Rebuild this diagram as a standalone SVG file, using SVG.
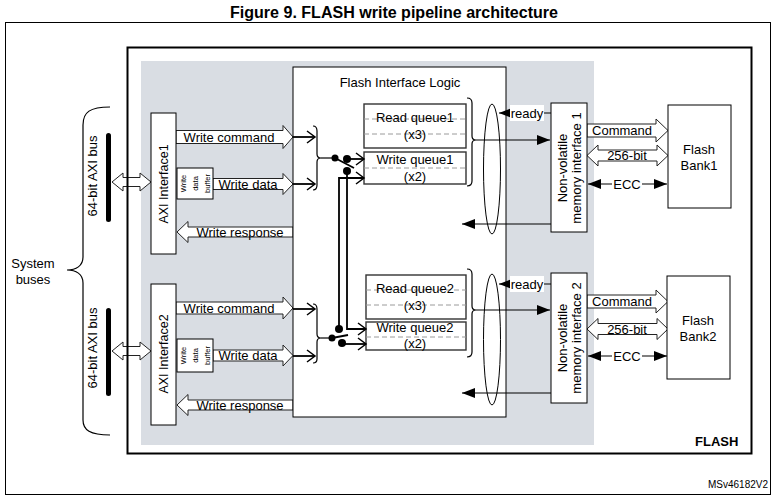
<svg xmlns="http://www.w3.org/2000/svg" width="776" height="499" viewBox="0 0 776 499">
<defs>
<style>
.t{font-family:"Liberation Sans",Arial,sans-serif;font-size:13px;fill:#000}
.c{text-anchor:middle}
.box{fill:#fff;stroke:#000;stroke-width:1}
.q{fill:#fff;stroke:#333;stroke-width:1.4}
.ha{fill:#fff;stroke:#222;stroke-width:1}
.ln{fill:none;stroke:#000;stroke-width:1.2}
.lt{fill:none;stroke:#000;stroke-width:1.8}
.dash{stroke:#9a9a9a;stroke-width:1;stroke-dasharray:5 3}
.dot{fill:#000}
.sm{font-size:7.5px}
</style>
<marker id="ah" markerUnits="userSpaceOnUse" markerWidth="14" markerHeight="10" refX="13" refY="5" orient="auto-start-reverse" overflow="visible">
<path d="M0,0 L13,5 L0,10 z" fill="#000"/>
</marker>
<marker id="ch" markerUnits="userSpaceOnUse" markerWidth="10" markerHeight="14" refX="8" refY="6" orient="auto" overflow="visible">
<path d="M0,0 L8,6 L0,12" fill="none" stroke="#000" stroke-width="1.5"/>
</marker>
</defs>

<rect x="0" y="0" width="776" height="499" fill="#fff"/>
<text x="394" y="18" text-anchor="middle" textLength="328" lengthAdjust="spacingAndGlyphs" style="font-family:'Liberation Sans Narrow','Liberation Sans',Arial,sans-serif;font-size:16px;font-weight:bold">Figure 9. FLASH write pipeline architecture</text>
<rect x="5.5" y="22.5" width="765" height="472" fill="none" stroke="#000" stroke-width="1"/>

<!-- gray region -->
<rect x="141" y="61" width="453" height="384" fill="#d9dde3"/>

<!-- system buses brace -->
<g id="system-buses">
<path class="ln" d="M110,107 C90,107 83,112 83,125 L83,257 C83,266 76,270 67,270 C76,270 83,274 83,283 L83,420 C83,430 90,435 110,435"/>
<text class="t c" x="33" y="268">System</text>
<text class="t c" x="33" y="284">buses</text>
</g>

<g id="axi-bus-1">
<rect x="106" y="133" width="5" height="89" rx="2.5" fill="#000"/>
<text class="t c" transform="translate(96.5,176) rotate(-90)">64-bit AXI bus</text>
</g>
<g id="axi-bus-2">
<rect x="106" y="308" width="5" height="88" rx="2.5" fill="#000"/>
<text class="t c" transform="translate(96.5,348) rotate(-90)">64-bit AXI bus</text>
</g>

<!-- connectors -->
<g id="connectors">
<polygon class="ha" points="112,182 123,173 123,177.5 140,177.5 140,173 151,182 140,191 140,186.5 123,186.5 123,191"/>
<polygon class="ha" points="112,351 123,342 123,346.5 140,346.5 140,342 151,351 140,360 140,355.5 123,355.5 123,360"/>
<polygon class="ha" points="176,130.5 283,130.5 283,125.5 293,137 283,148.5 283,143.5 176,143.5"/>
<polygon class="ha" points="213,178.5 283,178.5 283,173.5 293,184 283,194.5 283,189.5 213,189.5"/>
<polygon class="ha" points="293,227 188,227 188,221.5 177,232 188,242.5 188,237 293,237"/>
<polygon class="ha" points="176,302 283,302 283,297 293,308 283,319 283,314 176,314"/>
<polygon class="ha" points="213,350 283,350 283,345 293,355.5 283,366 283,361 213,361"/>
<polygon class="ha" points="293,400 188,400 188,394.5 177,405 188,415.5 188,410 293,410"/>
</g>

<!-- FLASH frame -->
<g id="flash">
<rect x="127.5" y="47.5" width="624" height="406" fill="none" stroke="#000" stroke-width="2"/>
<text class="t" x="695" y="446" style="font-weight:bold">FLASH</text>
</g>

<g id="axi-interface-1">
<rect class="box" x="151" y="113" width="25" height="141"/>
<text class="t c" transform="translate(168,184) rotate(-90)" style="font-size:12.5px">AXI Interface1</text>
<rect class="box" x="177" y="168" width="36" height="31"/>
<text class="t c sm" transform="translate(186,183.5) rotate(-90)">Write</text>
<text class="t c sm" transform="translate(198,183.5) rotate(-90)">data</text>
<text class="t c sm" transform="translate(210,183.5) rotate(-90)">buffer</text>
<text class="t c" x="229" y="142">Write command</text>
<text class="t c" x="248" y="188.5">Write data</text>
<text class="t c" x="240" y="236.5">Write response</text>
</g>

<g id="axi-interface-2">
<rect class="box" x="151" y="284" width="25" height="141"/>
<text class="t c" transform="translate(168,354) rotate(-90)" style="font-size:12.5px">AXI Interface2</text>
<rect class="box" x="177" y="339" width="36" height="33"/>
<text class="t c sm" transform="translate(186,355.5) rotate(-90)">Write</text>
<text class="t c sm" transform="translate(198,355.5) rotate(-90)">data</text>
<text class="t c sm" transform="translate(210,355.5) rotate(-90)">buffer</text>
<text class="t c" x="229" y="312.5">Write command</text>
<text class="t c" x="248" y="360">Write data</text>
<text class="t c" x="240" y="409.5">Write response</text>
</g>

<g id="flash-interface-logic">
<rect class="box" x="293" y="67" width="213" height="350"/>
<text class="t c" x="400" y="86.5">Flash Interface Logic</text>
</g>

<g id="read-queue-1">
<rect class="q" x="364" y="104" width="102" height="44"/>
<line class="dash" x1="364" y1="119" x2="466" y2="119"/>
<line class="dash" x1="364" y1="134" x2="466" y2="134"/>
<text class="t c" x="415" y="121.5">Read queue1</text>
<text class="t c" x="415" y="138.5">(x3)</text>
</g>
<g id="write-queue-1">
<rect class="q" x="364" y="152" width="102" height="32"/>
<line class="dash" x1="364" y1="168" x2="466" y2="168"/>
<text class="t c" x="415" y="163.5">Write queue1</text>
<text class="t c" x="415" y="180.5">(x2)</text>
</g>
<g id="read-queue-2">
<rect class="q" x="366" y="275" width="100" height="44"/>
<line class="dash" x1="366" y1="290" x2="466" y2="290"/>
<line class="dash" x1="366" y1="305" x2="466" y2="305"/>
<text class="t c" x="415" y="292.5">Read queue2</text>
<text class="t c" x="415" y="309.5">(x3)</text>
</g>
<g id="write-queue-2">
<rect class="q" x="366" y="322" width="100" height="28"/>
<line class="dash" x1="366" y1="337" x2="466" y2="337"/>
<text class="t c" x="415" y="331.5">Write queue2</text>
<text class="t c" x="415" y="348">(x2)</text>
</g>

<g id="internal-connectors">
<line class="lt" x1="293" y1="137" x2="315" y2="137" marker-end="url(#ch)"/>
<line class="lt" x1="293" y1="184" x2="315" y2="184" marker-end="url(#ch)"/>
<line class="lt" x1="293" y1="309" x2="315" y2="309" marker-end="url(#ch)"/>
<line class="lt" x1="293" y1="356" x2="315" y2="356" marker-end="url(#ch)"/>
<path class="ln" d="M313,126 C316,126 317,128 317,131 L317,154 C317,157 319,158 321,158 C319,158 317,159 317,162 L317,185 C317,188 316,190 313,190"/>
<path class="ln" d="M313,304 C316,304 317,306 317,309 L317,334 C317,337 319,338 321,338 C319,338 317,339 317,342 L317,359 C317,362 316,363 313,363"/>
<line class="ln" x1="321" y1="158" x2="335" y2="158"/>
<line class="ln" x1="321" y1="338" x2="332" y2="338"/>
<line class="lt" x1="335" y1="158" x2="354" y2="168"/>
<circle class="dot" cx="335" cy="158" r="3.5"/>
<circle class="dot" cx="347" cy="159" r="4"/>
<circle class="dot" cx="347" cy="171" r="4"/>
<line class="lt" x1="347" y1="159" x2="364" y2="159" marker-end="url(#ch)"/>
<polyline class="lt" points="347,171 347,329 366,329" marker-end="url(#ch)"/>
<line class="lt" x1="332" y1="338" x2="348" y2="335"/>
<circle class="dot" cx="332" cy="338" r="3.5"/>
<circle class="dot" cx="339" cy="329" r="4"/>
<circle class="dot" cx="342" cy="343" r="4"/>
<polyline class="lt" points="339,329 339,178 364,178" marker-end="url(#ch)"/>
<line class="lt" x1="342" y1="344" x2="366" y2="344" marker-end="url(#ch)"/>
<path class="ln" d="M467,98 C470,98 472,100 472,103 L472,136 C472,139 474,140 476,140 C474,140 472,141 472,144 L472,181 C472,184 470,186 467,186"/>
<path class="ln" d="M467,269 C470,269 472,271 472,274 L472,306 C472,309 474,310 476,310 C474,310 472,311 472,314 L472,352 C472,355 470,357 467,357"/>
<ellipse cx="492" cy="169" rx="8.5" ry="65" fill="none" stroke="#000" stroke-width="1"/>
<ellipse cx="492" cy="339.5" rx="8.5" ry="65.5" fill="none" stroke="#000" stroke-width="1"/>
<line class="ln" x1="476" y1="140" x2="550" y2="140" marker-end="url(#ah)"/>
<line class="ln" x1="476" y1="310" x2="550" y2="310" marker-end="url(#ah)"/>
<line class="ln" x1="551" y1="224" x2="462" y2="224" marker-end="url(#ah)"/>
<line class="ln" x1="551" y1="393" x2="462" y2="393" marker-end="url(#ah)"/>
<line class="ln" x1="551" y1="113" x2="499" y2="113" marker-end="url(#ah)"/>
<line class="ln" x1="551" y1="284" x2="499" y2="284" marker-end="url(#ah)"/>
<rect x="510" y="105" width="34" height="16" fill="#fff"/>
<rect x="510" y="276" width="34" height="16" fill="#fff"/>
<text class="t c" x="527" y="117.5">ready</text>
<text class="t c" x="527" y="288.5">ready</text>
<polygon class="ha" points="587,124 656,124 656,119 668,130.5 656,142 656,137 587,137"/>
<polygon class="ha" points="587,155.5 598,145 598,150 657,150 657,145 668,155.5 657,166 657,161 598,161 598,166"/>
<line class="ln" x1="588" y1="184" x2="667" y2="184" marker-start="url(#ah)" marker-end="url(#ah)"/>
<rect x="612" y="177" width="30" height="14" fill="#fff"/>
<text class="t c" x="622" y="135">Command</text>
<text class="t c" x="627" y="160">256-bit</text>
<text class="t c" x="627" y="188.5">ECC</text>
<polygon class="ha" points="587,295 656,295 656,290 668,301.5 656,313 656,308 587,308"/>
<polygon class="ha" points="587,329 598,318.5 598,323.5 657,323.5 657,318.5 668,329 657,339.5 657,334.5 598,334.5 598,339.5"/>
<line class="ln" x1="588" y1="356" x2="667" y2="356" marker-start="url(#ah)" marker-end="url(#ah)"/>
<rect x="612" y="349" width="30" height="14" fill="#fff"/>
<text class="t c" x="622" y="306">Command</text>
<text class="t c" x="627" y="333.5">256-bit</text>
<text class="t c" x="627" y="360.5">ECC</text>
</g>

<g id="nvm-interface-1">
<rect class="box" x="551" y="103" width="36" height="129"/>
<text class="t c" transform="translate(566.5,168) rotate(-90)">Non-volatile</text>
<text class="t c" transform="translate(581,168) rotate(-90)">memory interface 1</text>
</g>
<g id="nvm-interface-2">
<rect class="box" x="551" y="273" width="36" height="130"/>
<text class="t c" transform="translate(566.5,338) rotate(-90)">Non-volatile</text>
<text class="t c" transform="translate(581,338) rotate(-90)">memory interface 2</text>
</g>
<g id="flash-bank-1">
<rect class="box" x="668" y="105" width="63" height="103"/>
<text class="t c" x="699" y="153.5">Flash</text>
<text class="t c" x="699" y="169.5">Bank1</text>
</g>
<g id="flash-bank-2">
<rect class="box" x="667" y="276" width="63" height="103"/>
<text class="t c" x="698" y="324.5">Flash</text>
<text class="t c" x="698" y="340.5">Bank2</text>
</g>

<text x="768" y="488" text-anchor="end" style="font-family:'Liberation Sans',Arial,sans-serif;font-size:10px">MSv46182V2</text>
</svg>
